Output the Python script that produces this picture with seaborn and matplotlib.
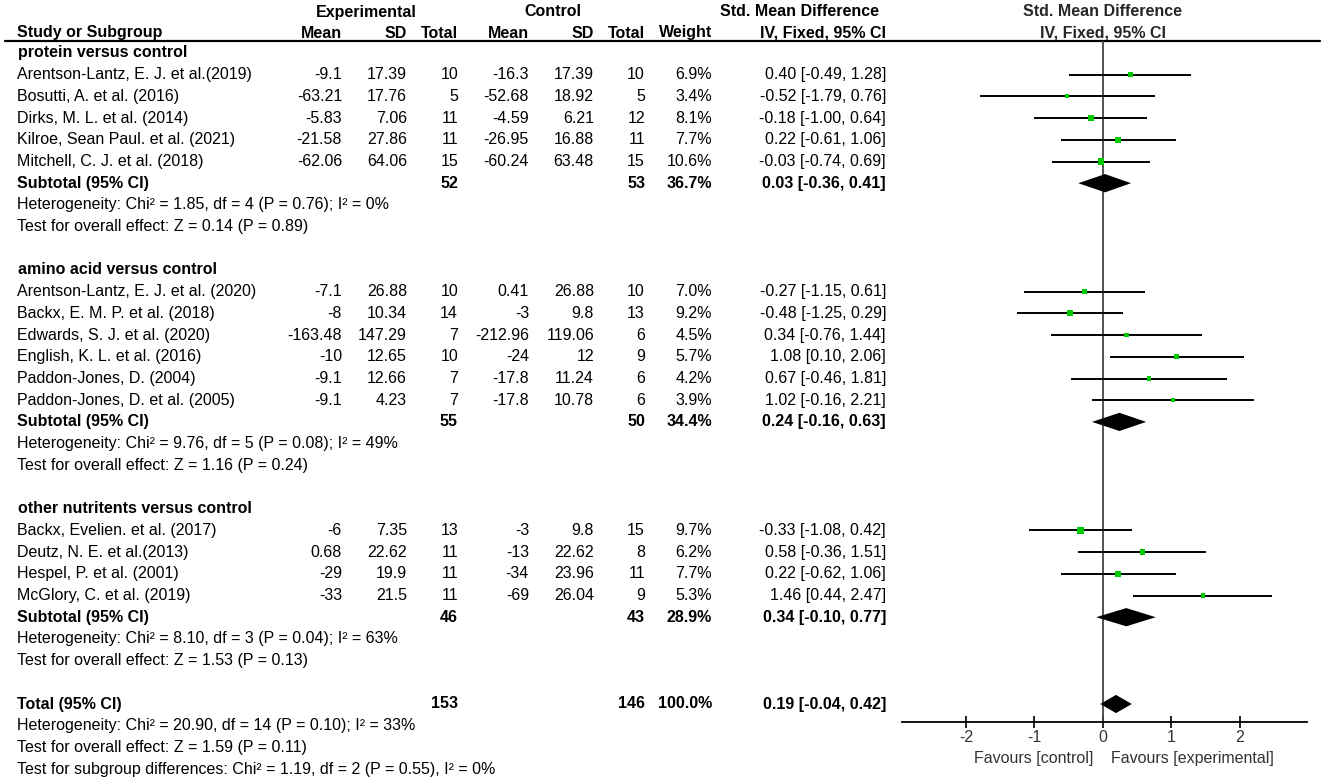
import pandas as pd
import matplotlib
matplotlib.use('Agg')
import matplotlib.pyplot as plt
import seaborn as sns

# ---- data ----
groups = ['protein versus control', 'amino acid versus control', 'other nutritents versus control']

studies = ['Arentson-Lantz, E. J. et al.(2019)', 'Bosutti, A. et al. (2016)', 'Dirks, M. L. et al. (2014)',
           'Kilroe, Sean Paul. et al. (2021)', 'Mitchell, C. J. et al. (2018)',
           'Arentson-Lantz, E. J. et al. (2020)', 'Backx, E. M. P. et al. (2018)', 'Edwards, S. J. et al. (2020)',
           'English, K. L. et al. (2016)', 'Paddon-Jones, D. (2004)', 'Paddon-Jones, D. et al. (2005)',
           'Backx, Evelien. et al. (2017)', 'Deutz, N. E. et al.(2013)', 'Hespel, P. et al. (2001)',
           'McGlory, C. et al. (2019)']
study_group = [0, 0, 0, 0, 0, 1, 1, 1, 1, 1, 1, 2, 2, 2, 2]
exp_mean = [-9.1, -63.21, -5.83, -21.58, -62.06, -7.1, -8, -163.48, -10, -9.1, -9.1, -6, 0.68, -29, -33]
exp_sd = [17.39, 17.76, 7.06, 27.86, 64.06, 26.88, 10.34, 147.29, 12.65, 12.66, 4.23, 7.35, 22.62, 19.9, 21.5]
exp_n = [10, 5, 11, 11, 15, 10, 14, 7, 10, 7, 7, 13, 11, 11, 11]
ctl_mean = [-16.3, -52.68, -4.59, -26.95, -60.24, 0.41, -3, -212.96, -24, -17.8, -17.8, -3, -13, -34, -69]
ctl_sd = [17.39, 18.92, 6.21, 16.88, 63.48, 26.88, 9.8, 119.06, 12, 11.24, 10.78, 9.8, 22.62, 23.96, 26.04]
ctl_n = [10, 5, 12, 11, 15, 10, 13, 6, 9, 6, 6, 15, 8, 11, 9]
weight = [6.9, 3.4, 8.1, 7.7, 10.6, 7.0, 9.2, 4.5, 5.7, 4.2, 3.9, 9.7, 6.2, 7.7, 5.3]
smd = [0.40, -0.52, -0.18, 0.22, -0.03, -0.27, -0.48, 0.34, 1.08, 0.67, 1.02, -0.33, 0.58, 0.22, 1.46]
ci_lo = [-0.49, -1.79, -1.00, -0.61, -0.74, -1.15, -1.25, -0.76, 0.10, -0.46, -0.16, -1.08, -0.36, -0.62, 0.44]
ci_hi = [1.28, 0.76, 0.64, 1.06, 0.69, 0.61, 0.29, 1.44, 2.06, 1.81, 2.21, 0.42, 1.51, 1.06, 2.47]

sub_exp_n = [52, 55, 46]
sub_ctl_n = [53, 50, 43]
sub_weight = [36.7, 34.4, 28.9]
sub_smd = [0.03, 0.24, 0.34]
sub_lo = [-0.36, -0.16, -0.10]
sub_hi = [0.41, 0.63, 0.77]
sub_het = ['Heterogeneity: Chi² = 1.85, df = 4 (P = 0.76); I² = 0%',
           'Heterogeneity: Chi² = 9.76, df = 5 (P = 0.08); I² = 49%',
           'Heterogeneity: Chi² = 8.10, df = 3 (P = 0.04); I² = 63%']
sub_test = ['Test for overall effect: Z = 0.14 (P = 0.89)',
            'Test for overall effect: Z = 1.16 (P = 0.24)',
            'Test for overall effect: Z = 1.53 (P = 0.13)']

total_exp_n, total_ctl_n, total_weight = 153, 146, 100.0
total_smd, total_lo, total_hi = 0.19, -0.04, 0.42
total_notes = ['Heterogeneity: Chi² = 20.90, df = 14 (P = 0.10); I² = 33%',
               'Test for overall effect: Z = 1.59 (P = 0.11)',
               'Test for subgroup differences: Chi² = 1.19, df = 2 (P = 0.55), I² = 0%']

# ---- layout (pixels) ----
W, H = 1325, 780
ROW0, STEP = 53, 21.7
col_x = {'name': 17, 'em': 342, 'esd': 407, 'en': 458, 'cm': 529, 'csd': 594, 'cn': 645, 'w': 712, 'ci': 886}
FS = 11.5

sns.set_theme(style='white')
plt.rcParams['font.family'] = ['Liberation Sans', 'DejaVu Sans']

fig = plt.figure(figsize=(W / 100, H / 100), dpi=100)
tax = fig.add_axes([0, 0, 1, 1])
tax.set_xlim(0, W)
tax.set_ylim(H, 0)
tax.axis('off')


def ypix(r):
    return ROW0 + r * STEP


def cell(x, r, s, ha='right', bold=False):
    tax.text(x, ypix(r), s, ha=ha, va='center', fontsize=FS,
             fontweight='bold' if bold else 'normal', color='black')


def ci_text(m, lo, hi):
    return f'{m:.2f} [{lo:.2f}, {hi:.2f}]'


# header
hb = dict(fontsize=FS, fontweight='bold', va='center', color='black')
tax.text(366, 12, 'Experimental', ha='center', **hb)
tax.text(553, 12, 'Control', ha='center', **hb)
tax.text(879, 12, 'Std. Mean Difference', ha='right', **hb)
tax.text(17, 33, 'Study or Subgroup', ha='left', **hb)
for key, lab in [('em', 'Mean'), ('esd', 'SD'), ('en', 'Total'), ('cm', 'Mean'), ('csd', 'SD'),
                 ('cn', 'Total'), ('w', 'Weight'), ('ci', 'IV, Fixed, 95% CI')]:
    tax.text(col_x[key], 33, lab, ha='right', **hb)
tax.plot([5, 1320], [41, 41], color='black', lw=1.6)

# table body, remembering the row of every mark
study_rows, sub_rows = [], []
r = 0
for g, gname in enumerate(groups):
    cell(18, r, gname, ha='left', bold=True)
    r += 1
    for i in [k for k, sg in enumerate(study_group) if sg == g]:
        cell(col_x['name'], r, studies[i], ha='left')
        cell(col_x['em'], r, str(exp_mean[i]))
        cell(col_x['esd'], r, str(exp_sd[i]))
        cell(col_x['en'], r, str(exp_n[i]))
        cell(col_x['cm'], r, str(ctl_mean[i]))
        cell(col_x['csd'], r, str(ctl_sd[i]))
        cell(col_x['cn'], r, str(ctl_n[i]))
        cell(col_x['w'], r, f'{weight[i]:.1f}%')
        cell(col_x['ci'], r, ci_text(smd[i], ci_lo[i], ci_hi[i]))
        study_rows.append(r)
        r += 1
    cell(col_x['name'], r, 'Subtotal (95% CI)', ha='left', bold=True)
    cell(col_x['en'], r, str(sub_exp_n[g]), bold=True)
    cell(col_x['cn'], r, str(sub_ctl_n[g]), bold=True)
    cell(col_x['w'], r, f'{sub_weight[g]:.1f}%', bold=True)
    cell(col_x['ci'], r, ci_text(sub_smd[g], sub_lo[g], sub_hi[g]), bold=True)
    sub_rows.append(r)
    cell(col_x['name'], r + 1, sub_het[g], ha='left')
    cell(col_x['name'], r + 2, sub_test[g], ha='left')
    r += 4

total_row = r
cell(col_x['name'], r, 'Total (95% CI)', ha='left', bold=True)
cell(col_x['en'], r, str(total_exp_n), bold=True)
cell(col_x['cn'], r, str(total_ctl_n), bold=True)
cell(col_x['w'], r, f'{total_weight:.1f}%', bold=True)
cell(col_x['ci'], r, ci_text(total_smd, total_lo, total_hi), bold=True)
for k, note in enumerate(total_notes):
    cell(col_x['name'], r + 1 + k, note, ha='left')

# ---- forest panel ----
x0, x1 = 902, 1307
fax = fig.add_axes([x0 / W, 0, (x1 - x0) / W, 1])
fax.set_facecolor('none')
fax.set_xlim(-2.934, 2.978)
fax.set_ylim((H - ROW0) / STEP, -ROW0 / STEP)
axis_row = (722 - ROW0) / STEP

fax.vlines(0, (41 - ROW0) / STEP, axis_row, color='#444444', lw=1.3, zorder=1)

df = pd.DataFrame({'row': study_rows, 'smd': smd, 'lo': ci_lo, 'hi': ci_hi, 'weight': weight})
fax.hlines(df['row'], df['lo'], df['hi'], color='black', lw=1.4, zorder=2)
sns.scatterplot(data=df, x='smd', y='row', size='weight', sizes=(9, 22),
                marker='s', color='#00c800', edgecolor='none', linewidth=0, legend=False,
                ax=fax, zorder=3)

half_h = 0.42
for m, lo, hi, rr in zip(sub_smd + [total_smd], sub_lo + [total_lo], sub_hi + [total_hi],
                         sub_rows + [total_row]):
    fax.fill([lo, m, hi, m], [rr, rr - half_h, rr, rr + half_h], color='black', lw=0, zorder=3)

for s in ['top', 'left', 'right']:
    fax.spines[s].set_visible(False)
fax.spines['bottom'].set_position(('data', axis_row))
fax.spines['bottom'].set_color('black')
fax.spines['bottom'].set_linewidth(1.3)
fax.set_yticks([])
fax.set_xticks([-2, -1, 0, 1, 2])
fax.set_xticklabels(['-2', '-1', '0', '1', '2'])
fax.tick_params(axis='x', direction='inout', length=8, width=1.2, color='black',
                labelsize=FS, labelcolor='#333333', pad=2, bottom=True)
fax.set_xlabel('')
fax.set_ylabel('')
fav_row = (758 - ROW0) / STEP
fax.text(-0.146, fav_row, 'Favours [control]', ha='right', va='center', fontsize=FS, color='#333333')
fax.text(0.117, fav_row, 'Favours [experimental]', ha='left', va='center', fontsize=FS, color='#333333')

head_y = [(12 - ROW0) / STEP, (33 - ROW0) / STEP]
fax.text(0, head_y[0], 'Std. Mean Difference', ha='center', va='center', fontsize=FS, fontweight='bold')
fax.text(0, head_y[1], 'IV, Fixed, 95% CI', ha='center', va='center', fontsize=FS, fontweight='bold')

fig.savefig('out.png', dpi=100)
